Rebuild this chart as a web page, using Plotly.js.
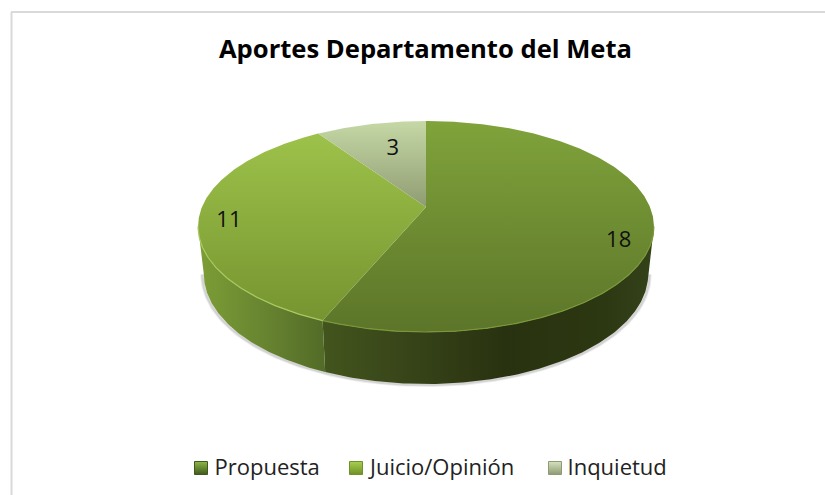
<!DOCTYPE html>
<html><head><meta charset="utf-8">
<script src="https://cdn.plot.ly/plotly-3.0.1.min.js"></script>
<style>html,body{margin:0;padding:0;background:#fff}</style></head>
<body><div id="chart" style="width:825px;height:495px"></div>
<script>
// ---- data
const categories = ["Propuesta", "Juicio/Opinión", "Inquietud"];
const values = [18, 11, 3];

// ---- styles
const topScales = [
  [[0, "#80a33b"], [1, "#5c7529"]],
  [[0, "#9dc24a"], [1, "#769430"]],
  [[0, "#c6d8a6"], [1, "#8f9c72"]]
];
const wallScales = [
  [[0, "#43551d"], [0.2, "#3a481a"], [0.55, "#293210"], [0.85, "#2c3812"], [1, "#34421a"]],
  [[0, "#7d9d36"], [0.55, "#668330"], [1, "#526b27"]],
  [[0, "#8f9c72"], [1, "#8f9c72"]]
];
const rimColors = ["#7a9838", "#a8c95f", "#cfdcb6"];
const legendTops = ["#8fb848", "#a8d04e", "#d5e2bd"];
const legendBottoms = ["#3f5a1c", "#6f9128", "#8d9a74"];
const legendMarkerX = [201, 356, 555];
const legendTextX = [214.5, 370, 567.5];
const legendY = 468;
const legendTextY = 469;

// ---- projection of the pie disc to the picture (tilted disc with perspective)
const cx = 426, apexY = 207, a = -63.6, c = 0.185, d = 224;
const project = (t, r) => {
  const u = Math.sin(t) * r, v = Math.cos(t) * r, w = 1 + c * v;
  return [cx + d * u / w, (apexY + a * v) / w];
};
const projectBase = (t) => {
  const [x, y] = project(t, 1), v = Math.cos(t);
  return [cx + (x - cx) * 0.975, y + 46 - 6 * v];
};
const total = values.reduce((s, n) => s + n, 0);
const rad = (f) => f * 2 * Math.PI;
const steps = (t0, t1) => {
  const n = Math.max(2, Math.ceil(Math.abs(t1 - t0) / 0.01)), out = [];
  for (let i = 0; i <= n; i++) out.push(t0 + (t1 - t0) * i / n);
  return out;
};
const sideT = Math.acos(-c);               // where the outline is vertical
const walls = [[sideT, 2 * Math.PI - sideT]];

const traces = [];
let acc = 0;
const sectors = values.map((v) => {
  const s = { t0: rad(acc / total), t1: rad((acc + v) / total) };
  acc += v;
  return s;
});

// soft shadow under the base
[[4.5, 0.12], [2.5, 0.2]].forEach(([w, o]) => {
  const pts = steps(walls[0][0], walls[0][1]).map(projectBase);
  traces.push({
    x: pts.map(p => cx + (p[0] - cx) * 1.006), y: pts.map(p => p[1] + 0.8),
    mode: "lines", line: { color: `rgba(110,110,110,${o})`, width: w },
    showlegend: false, hoverinfo: "skip"
  });
});

// side walls
sectors.forEach((s, i) => {
  const t0 = Math.max(s.t0, walls[0][0]), t1 = Math.min(s.t1, walls[0][1]);
  if (t1 <= t0) return;
  const ts = steps(t0, t1);
  const up = ts.map(t => project(t, 1));
  const lo = ts.map(projectBase).reverse();
  const pts = up.concat(lo);
  pts.push(up[0]);
  const xs = pts.map(p => p[0]);
  traces.push({
    x: xs, y: pts.map(p => p[1]), mode: "lines", fill: "toself",
    line: { width: 0 }, showlegend: false, hoverinfo: "skip",
    fillgradient: { type: "horizontal", colorscale: wallScales[i],
      start: Math.min(...xs), stop: Math.max(...xs) }
  });
});

// top faces
sectors.forEach((s, i) => {
  const arc = steps(s.t0, s.t1).map(t => project(t, 1));
  const pts = [project(0, 0)].concat(arc, [project(0, 0)]);
  const ys = pts.map(p => p[1]);
  traces.push({
    x: pts.map(p => p[0]), y: ys, mode: "lines", fill: "toself",
    line: { width: 0 }, showlegend: false,
    name: categories[i], text: String(values[i]), hoverinfo: "name+text",
    fillgradient: { type: "vertical", colorscale: topScales[i],
      start: Math.min(...ys), stop: Math.max(...ys) }
  });
});

// lit front rim of the top face
sectors.forEach((s, i) => {
  const t0 = Math.max(s.t0, walls[0][0]), t1 = Math.min(s.t1, walls[0][1]);
  if (t1 <= t0) return;
  const pts = steps(t0, t1).map(t => project(t, 1));
  traces.push({
    x: pts.map(p => p[0]), y: pts.map(p => p[1]), mode: "lines",
    line: { color: rimColors[i], width: 1.2 }, showlegend: false, hoverinfo: "skip"
  });
});

// value labels, anchored on each slice's middle angle
const labelRadius = [0.85, 0.87, 0.56];
const labelDrop = [17, 6, -8];
const lbl = sectors.map((s, i) => {
  const p = project((s.t0 + s.t1) / 2, labelRadius[i]);
  return [p[0], p[1] + labelDrop[i]];
});
traces.push({
  x: lbl.map(p => p[0]), y: lbl.map(p => p[1]), text: values.map(String),
  mode: "text", textposition: "middle center",
  textfont: { family: "Open Sans, sans-serif", size: 22, color: "#111" },
  showlegend: false, hoverinfo: "skip"
});

// legend row
categories.forEach((name, i) => {
  traces.push({
    x: [legendMarkerX[i]], y: [legendY], name, mode: "markers",
    marker: { symbol: "square", size: 13, color: legendTops[i],
      gradient: { type: "vertical", color: legendBottoms[i] },
      line: { color: legendBottoms[i], width: 1 } },
    showlegend: false, hoverinfo: "name"
  });
});
traces.push({
  x: legendTextX, y: categories.map(() => legendTextY), text: categories,
  mode: "text", textposition: "middle right",
  textfont: { family: "Open Sans, sans-serif", size: 22, color: "#222" },
  showlegend: false, hoverinfo: "skip"
});

const layout = {
  width: 825, height: 495, autosize: false, showlegend: false,
  margin: { l: 0, r: 0, t: 0, b: 0 },
  paper_bgcolor: "#fff", plot_bgcolor: "#fff",
  xaxis: { range: [0, 825], visible: false, fixedrange: true },
  yaxis: { range: [495, 0], visible: false, fixedrange: true },
  title: { text: "<b>Aportes Departamento del Meta</b>",
    font: { family: "Open Sans, sans-serif", size: 25.6, color: "#000" },
    x: 425.5 / 825, xanchor: "center", y: 1 - 49 / 495, yanchor: "middle" },
  shapes: [
    { type: "line", xref: "paper", yref: "paper", x0: 11.5 / 825, x1: 11.5 / 825, y0: 0, y1: 1 - 12 / 495,
      line: { color: "#d9d9d9", width: 2 } },
    { type: "line", xref: "paper", yref: "paper", x0: 11 / 825, x1: 1, y0: 1 - 12 / 495, y1: 1 - 12 / 495,
      line: { color: "#d9d9d9", width: 2 } }
  ]
};
Plotly.newPlot("chart", traces, layout, { displayModeBar: false });
</script></body></html>
